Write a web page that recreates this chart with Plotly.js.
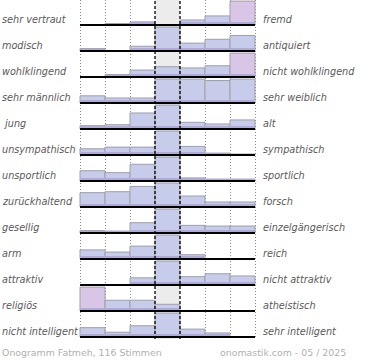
<!DOCTYPE html>
<html>
<head>
<meta charset="utf-8">
<script src="https://cdn.plot.ly/plotly-3.0.1.min.js"></script>
<style>html,body{margin:0;padding:0;background:#fff;}#chart{width:370px;height:360px;}</style>
</head>
<body>
<div id="chart"></div>
<script>
// Left / right pole labels (one row per adjective pair)
const leftLabels = ['sehr vertraut','modisch','wohlklingend','sehr männlich','\u00a0jung','unsympathisch','unsportlich','zurückhaltend','gesellig','arm','attraktiv','religiös','nicht intelligent'];
const rightLabels = ['fremd','antiquiert','nicht wohlklingend','sehr weiblich','alt','sympathisch','sportlich','forsch','einzelgängerisch','reich','nicht attraktiv','atheistisch','sehr intelligent'];

// Relative vote distribution over the 7 scale steps (max = 100)
const vertraut     = [0, 6, 13, 0, 21, 38, 100];
const modisch      = [10, 0, 20, 100, 33, 49, 65];
const wohlklingend = [0, 10, 29, 43, 38, 47, 100];
const maennlich    = [30, 21, 21, 100, 100, 94, 100];
const jung         = [14, 18, 67, 100, 28, 21, 38];
const unsympathisch= [26, 33, 33, 100, 36, 8, 4];
const unsportlich  = [43, 35, 70, 100, 13, 8, 8];
const zurueckhaltend=[60, 64, 86, 100, 46, 21, 21];
const gesellig     = [10, 8, 43, 100, 32, 29, 29];
const arm          = [38, 29, 54, 100, 18, 0, 0];
const attraktiv    = [0, 0, 30, 100, 35, 47, 38];
const religioes    = [100, 45, 45, 28, 0, 0, 0];
const intelligent  = [39, 20, 47, 100, 33, 17, 0];
const series = [vertraut, modisch, wohlklingend, maennlich, jung, unsympathisch, unsportlich, zurueckhaltend, gesellig, arm, attraktiv, religioes, intelligent];

// highlighted (dominant outer) cells: [row, step]
const highlight = [[0,6],[2,6],[11,0]];
const steps = [0,1,2,3,4,5,6];

const LAV = '#c6cce9', PINK = '#d9c6e7', BAND = '#aeaad9';
const N = series.length;
const scale = 0.92/100;
const hl = new Set(highlight.map(h => h[0]+','+h[1]));

const traces = [];
series.forEach((vals, r) => {
  const base = N-1-r;
  traces.push({
    type:'bar', x: steps, y: vals.map(v => v>0 ? v*scale : null), base: base, width: 1,
    marker:{color: vals.map((v,i) => hl.has(r+','+i) ? PINK : LAV), line:{color:'#a0a0a0', width:1}},
    hoverinfo:'skip', showlegend:false
  });
  traces.push({
    type:'bar', x: steps, y: vals.map(v => v>0 ? Math.min(v*scale, 0.1) : null), base: base, width: 1,
    marker:{color: BAND, line:{width:0}}, hoverinfo:'skip', showlegend:false
  });
});
// baselines
const bx = [], by = [];
series.forEach((vals, r) => { bx.push(-0.5, 6.5, null); by.push(N-1-r, N-1-r, null); });
traces.push({type:'scatter', mode:'lines', x: bx, y: by, line:{color:'#000', width:2}, hoverinfo:'skip', showlegend:false});

const annotations = [];
const labFont = {family:'DejaVu Sans', size:9.7, color:'#5a5a5a', style:'italic'};
series.forEach((vals, r) => {
  const base = N-1-r;
  annotations.push({xref:'paper', yref:'y', x:1/370, y: base+0.2, xanchor:'left', yanchor:'middle', text:leftLabels[r], showarrow:false, font:labFont, borderpad:0});
  annotations.push({xref:'paper', yref:'y', x:262/370, y: base+0.2, xanchor:'left', yanchor:'middle', text:rightLabels[r], showarrow:false, font:labFont, borderpad:0});
});
const footFont = {family:'DejaVu Sans', size:9.4, color:'#b0b0b0'};
annotations.push({xref:'paper', yref:'paper', x:1/370, y:1-352.5/360, xanchor:'left', yanchor:'middle', text:'Onogramm Fatmeh, 116 Stimmen', showarrow:false, font:footFont, borderpad:0});
annotations.push({xref:'paper', yref:'paper', x:347/370, y:1-352.5/360, xanchor:'right', yanchor:'middle', text:'onomastik.com - 05 / 2025', showarrow:false, font:footFont, borderpad:0});

const yBot = 21/360;
const layout = {
  width:370, height:360, margin:{l:0,r:0,t:0,b:0}, paper_bgcolor:'#fff', plot_bgcolor:'rgba(0,0,0,0)',
  barmode:'overlay', bargap:0,
  xaxis:{range:[-0.6,6.6], domain:[77.5/370, 257.5/370], showticklabels:false, ticks:'', zeroline:false,
         tickvals:[-0.5,0.5,1.5,4.5,5.5,6.5], showgrid:true, griddash:'1px,2px', gridcolor:'#8c8c8c', gridwidth:1, fixedrange:true},
  yaxis:{range:[12 + 25/26 - 339/26, 12 + 25/26], domain:[yBot,1], showticklabels:false, ticks:'', zeroline:false, showgrid:false, fixedrange:true},
  shapes:[
    {type:'rect', xref:'x', yref:'paper', x0:2.5, x1:3.5, y0:yBot, y1:1, fillcolor:'#ececec', line:{width:0}, layer:'below'},
    {type:'line', xref:'x', yref:'paper', x0:2.5, x1:2.5, y0:yBot, y1:1, line:{color:'#000', width:1.3, dash:'3px,2px'}, layer:'above'},
    {type:'line', xref:'x', yref:'paper', x0:3.5, x1:3.5, y0:yBot, y1:1, line:{color:'#000', width:1.3, dash:'3px,2px'}, layer:'above'}
  ],
  annotations: annotations,
  font:{family:'DejaVu Sans'}
};
Plotly.newPlot('chart', traces, layout, {staticPlot:true, displayModeBar:false});
</script>
</body>
</html>
